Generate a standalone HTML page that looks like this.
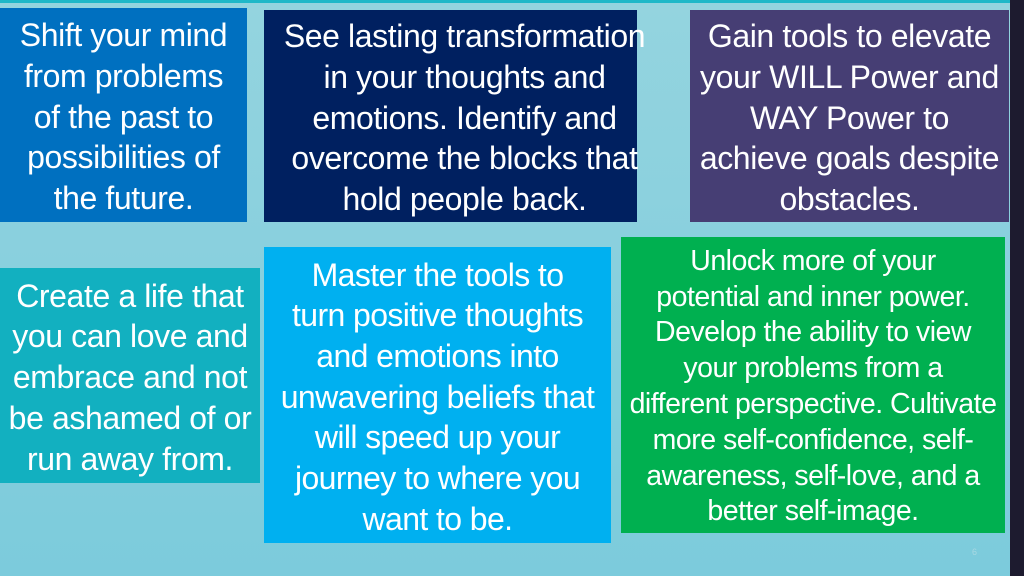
<!DOCTYPE html>
<html><head><meta charset="utf-8"><style>
html,body{margin:0;padding:0}
body{width:1024px;height:576px;position:relative;overflow:hidden;background:linear-gradient(#94d4df,#7ccbdc);font-family:"Liberation Sans",sans-serif;color:#fff}
.b{position:absolute;display:flex;align-items:center;justify-content:center;text-align:center;font-size:32px;line-height:40.7px;letter-spacing:-0.4px;white-space:nowrap}
.b span{display:block;position:relative;top:2px}
</style></head><body>
<div style="position:absolute;left:0;top:0;width:1010px;height:3px;background:#1fb8c8"></div>
<div style="position:absolute;left:1010px;top:0;width:14px;height:576px;background:#1d1b2f"></div>
<div class="b" style="left:0;top:8px;width:247px;height:214px;background:#0070c0"><span>Shift your mind<br>from problems<br>of the past to<br>possibilities of<br>the future.</span></div>
<div class="b" style="left:264px;top:10px;width:373px;height:212px;background:#002060"><span style="left:14px">See lasting transformation<br>in your thoughts and<br>emotions. Identify and<br>overcome the blocks that<br>hold people back.</span></div>
<div class="b" style="left:690px;top:10px;width:319px;height:212px;background:#463e74"><span>Gain tools to elevate<br>your WILL Power and<br>WAY Power to<br>achieve goals despite<br>obstacles.</span></div>
<div class="b" style="left:0;top:268px;width:260px;height:215px;background:#12b0c0"><span>Create a life that<br>you can love and<br>embrace and not<br>be ashamed of or<br>run away from.</span></div>
<div class="b" style="left:264px;top:247px;width:347px;height:296px;background:#00b0f0;letter-spacing:-0.6px"><span>Master the tools to<br>turn positive thoughts<br>and emotions into<br>unwavering beliefs that<br>will speed up your<br>journey to where you<br>want to be.</span></div>
<div class="b" style="left:621px;top:237px;width:384px;height:296px;background:#00b050;font-size:28.5px;line-height:35.8px;letter-spacing:-0.5px"><span>Unlock more of your<br>potential and inner power.<br>Develop the ability to view<br>your problems from a<br>different perspective. Cultivate<br>more self-confidence, self-<br>awareness, self-love, and a<br>better self-image.</span></div>
<div style="position:absolute;left:972px;top:547px;font-size:9px;color:#a8d8e2">6</div>
</body></html>
